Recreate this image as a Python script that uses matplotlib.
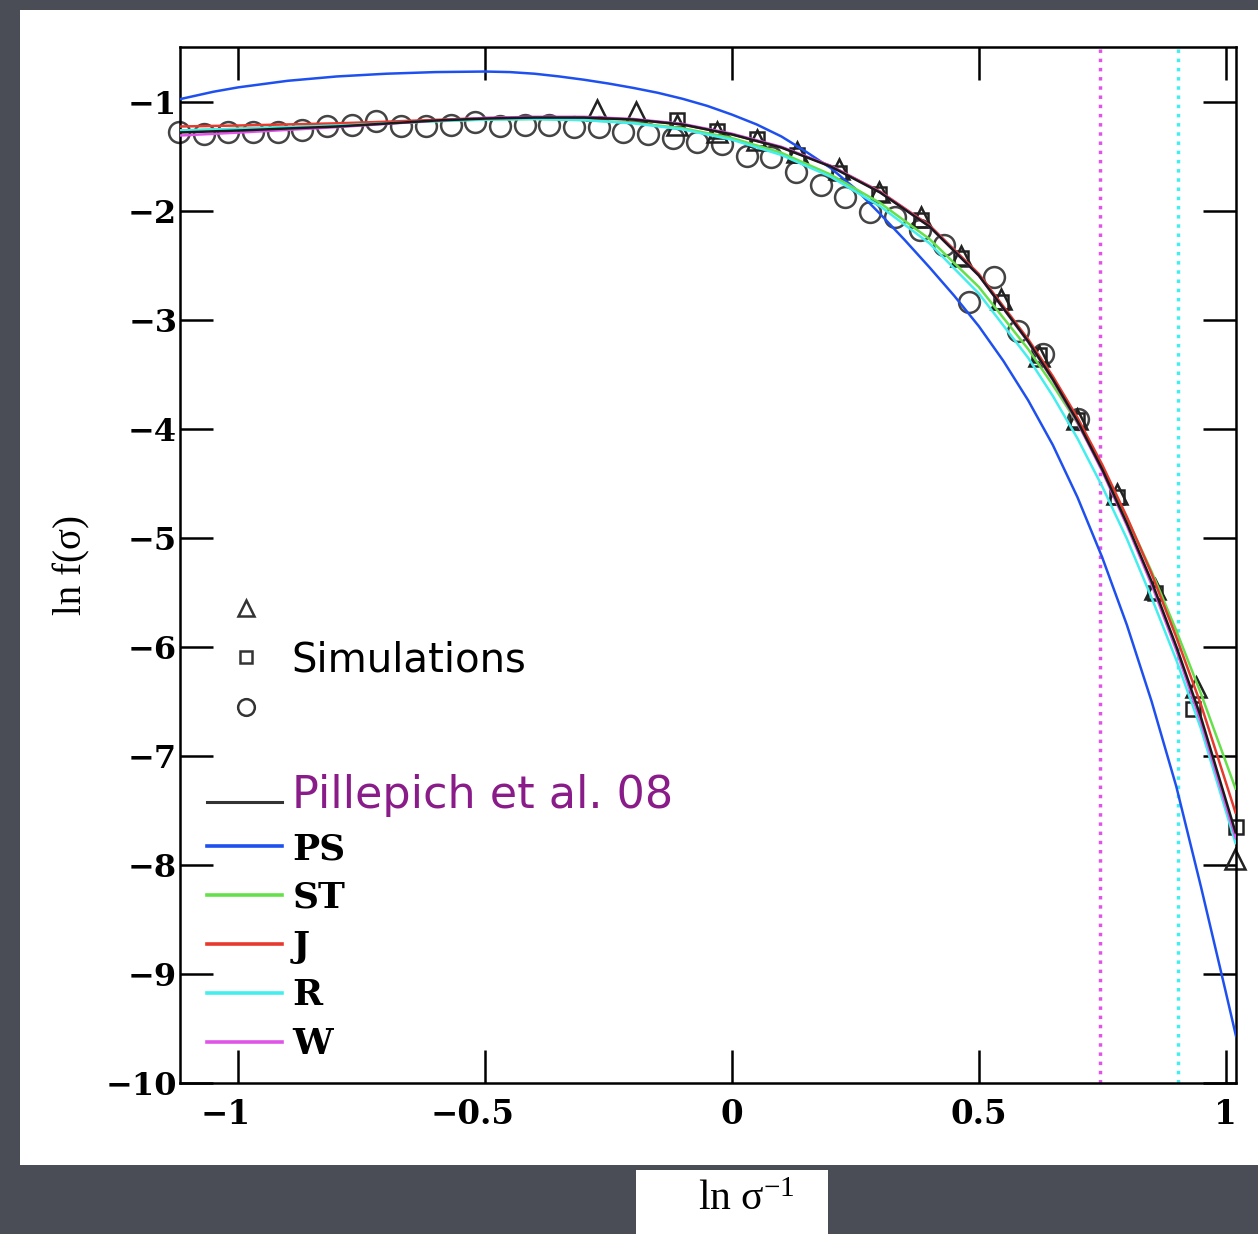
import numpy as np
import matplotlib
matplotlib.use("Agg")
import matplotlib.pyplot as plt
import matplotlib.transforms as mtransforms
from matplotlib.lines import Line2D
from matplotlib.patches import Rectangle
from matplotlib.legend_handler import HandlerLine2D

plt.rcParams["mathtext.fontset"] = "custom"
plt.rcParams["mathtext.rm"] = "Liberation Serif"
plt.rcParams["mathtext.it"] = "Liberation Serif:italic"

# model curves
curve_x = [-1.12, -1.0, -0.9, -0.8, -0.7, -0.6, -0.5, -0.4, -0.3, -0.2, -0.1, 0.0,
           0.1, 0.2, 0.3, 0.4, 0.5, 0.6, 0.65, 0.7, 0.75, 0.8, 0.85, 0.9, 0.95, 1.02]
st_y = [-1.266, -1.25, -1.235, -1.22, -1.20, -1.18, -1.165, -1.16, -1.17, -1.195, -1.245, -1.335,
        -1.47, -1.67, -1.93, -2.26, -2.70, -3.27, -3.60, -3.95, -4.36, -4.82, -5.31, -5.85, -6.43, -7.30]
j_y = [-1.229, -1.22, -1.21, -1.20, -1.185, -1.168, -1.152, -1.145, -1.147, -1.165, -1.211, -1.30,
       -1.42, -1.59, -1.825, -2.135, -2.58, -3.18, -3.52, -3.90, -4.33, -4.81, -5.33, -5.91, -6.53, -7.52]
r_y = [-1.266, -1.25, -1.235, -1.22, -1.20, -1.18, -1.165, -1.16, -1.17, -1.20, -1.255, -1.35,
       -1.49, -1.69, -1.96, -2.30, -2.76, -3.35, -3.70, -4.09, -4.53, -5.01, -5.55, -6.12, -6.75, -7.80]
w_y = [-1.312, -1.285, -1.26, -1.235, -1.205, -1.175, -1.15, -1.14, -1.14, -1.16, -1.205, -1.295,
       -1.415, -1.59, -1.83, -2.145, -2.595, -3.205, -3.555, -3.945, -4.39, -4.89, -5.43, -6.03, -6.69, -7.75]
pill_y = [-1.284, -1.266, -1.247, -1.229, -1.202, -1.174, -1.156, -1.147, -1.147, -1.165, -1.211, -1.302,
          -1.422, -1.596, -1.834, -2.146, -2.595, -3.200, -3.548, -3.933, -4.373, -4.868, -5.400, -5.995, -6.646, -7.70]

# Press-Schechter curve, read on a finer grid
ps_x = [-1.12, -1.05, -1.0, -0.9, -0.8, -0.7, -0.6, -0.5, -0.45, -0.4, -0.35, -0.3, -0.25, -0.2,
        -0.15, -0.1, -0.05, 0.0, 0.05, 0.1, 0.15, 0.2, 0.25, 0.3, 0.35, 0.4, 0.45, 0.5, 0.55,
        0.6, 0.65, 0.7, 0.75, 0.8, 0.85, 0.9, 0.95, 1.0, 1.021]
ps_y = [-0.98, -0.91, -0.87, -0.81, -0.77, -0.745, -0.73, -0.725, -0.73, -0.745, -0.77, -0.80, -0.835, -0.875,
        -0.92, -0.975, -1.04, -1.12, -1.21, -1.32, -1.46, -1.61, -1.80, -2.03, -2.27, -2.52, -2.78, -3.06, -3.38,
        -3.74, -4.15, -4.63, -5.18, -5.80, -6.50, -7.28, -8.20, -9.16, -9.57]

# simulation points
tri_x = [-0.273, -0.194, -0.111, -0.030, 0.051, 0.131, 0.216, 0.297, 0.382, 0.463, 0.544,
         0.621, 0.698, 0.779, 0.857, 0.940, 1.019]
tri_y = [-1.08, -1.10, -1.211, -1.284, -1.357, -1.467, -1.623, -1.834, -2.063, -2.421, -2.815,
         -3.337, -3.915, -4.602, -5.473, -6.371, -7.948]
sq_x = [-0.111, -0.030, 0.051, 0.131, 0.216, 0.297, 0.382, 0.463, 0.544, 0.621, 0.698,
        0.779, 0.857, 0.934, 1.021]
sq_y = [-1.165, -1.266, -1.348, -1.486, -1.651, -1.852, -2.082, -2.439, -2.842, -3.328, -3.924,
        -4.630, -5.510, -6.573, -7.655]
circ_x = [-1.12, -1.07, -1.02, -0.97, -0.92, -0.87, -0.82, -0.77, -0.72, -0.67, -0.62, -0.57,
          -0.52, -0.47, -0.42, -0.37, -0.32, -0.27, -0.22, -0.17, -0.12, -0.07, -0.02, 0.03,
          0.08, 0.13, 0.18, 0.23, 0.28, 0.33, 0.38, 0.43, 0.48, 0.53, 0.58, 0.63, 0.70]
circ_y = [-1.284, -1.302, -1.284, -1.275, -1.275, -1.257, -1.229, -1.211, -1.183, -1.229, -1.229, -1.211,
          -1.192, -1.229, -1.211, -1.211, -1.238, -1.238, -1.275, -1.302, -1.330, -1.367, -1.394, -1.504,
          -1.513, -1.642, -1.761, -1.871, -2.017, -2.063, -2.182, -2.320, -2.842, -2.613, -3.108, -3.319, -3.915]

w_limit = 0.745
r_limit = 0.903

models = [("PS", ps_x, ps_y, "#1e50f0"), ("ST", curve_x, st_y, "#66e04a"),
          ("J", curve_x, j_y, "#e8392e"), ("R", curve_x, r_y, "#44eeee"),
          ("W", curve_x, w_y, "#e055e8")]


class LowLine(HandlerLine2D):
    """legend line drawn a little below the middle of its label"""
    def create_artists(self, legend, orig_handle, xdescent, ydescent, width, height, fontsize, trans):
        return super().create_artists(legend, orig_handle, xdescent, ydescent + 8.6,
                                      width, height, fontsize, trans)


fig = plt.figure(figsize=(12.58, 12.34), dpi=100)
fig.patch.set_facecolor("#4b4d56")
fig.add_artist(Rectangle((20 / 1258, 69 / 1234), 1238 / 1258, 1155 / 1234,
                         transform=fig.transFigure, facecolor="white", edgecolor="none", zorder=-5))
fig.add_artist(Rectangle((636 / 1258, 0), 192 / 1258, 64 / 1234,
                         transform=fig.transFigure, facecolor="white", edgecolor="none", zorder=-5))

ax = fig.add_axes([180 / 1258, 151 / 1234, 1056 / 1258, 1036 / 1234])
ax.set_facecolor("white")

ax.plot(circ_x, circ_y, "o", mfc="none", mec="#444444", mew=1.8, ms=15, clip_on=False, zorder=2)
ax.plot(sq_x, sq_y, "s", mfc="none", mec="#222222", mew=1.8, ms=10.5, clip_on=False, zorder=2)
ax.plot(tri_x, tri_y, "^", mfc="none", mec="#222222", mew=1.8, ms=15, clip_on=False, zorder=2)

for name, xs, ys, col in models:
    ax.plot(xs, ys, color=col, lw=1.8, zorder=3)
ax.plot(curve_x, pill_y, color="#1a1a1a", lw=1.8, zorder=3)

ax.axvline(w_limit, color="#e055e8", ls=":", lw=2.5, zorder=1)
ax.axvline(r_limit, color="#44eeee", ls=":", lw=2.5, zorder=1)

ax.set_xlim(-1.118, 1.021)
ax.set_ylim(-10, -0.5)
ax.set_xticks([-1, -0.5, 0, 0.5, 1])
ax.set_xticklabels(["\u22121", "\u22120.5", "0", "0.5", "1"])
ax.set_yticks(range(-10, 0))
ax.set_yticklabels(["\u2212%d" % (-v) for v in range(-10, 0)])
ax.tick_params(direction="in", length=24, width=1.8, top=True, right=True)
ax.tick_params(axis="x", labelsize=23.5, pad=10.5)
ax.tick_params(axis="y", labelsize=23, pad=2)
# digits sit on the tick, the minus sign hangs to the left
shift = mtransforms.ScaledTranslation(-0.13, 0, fig.dpi_scale_trans)
for lab in ax.get_xticklabels():
    if lab.get_text().startswith("\u2212"):
        lab.set_transform(lab.get_transform() + shift)
for lab in ax.get_xticklabels() + ax.get_yticklabels():
    lab.set_family("DejaVu Serif")
    lab.set_weight("bold")
for sp in ax.spines.values():
    sp.set_linewidth(1.8)

ax.set_ylabel("ln f(\u03c3)", family="Liberation Serif", fontsize=28)
ax.yaxis.set_label_coords(-0.085, 0.5)
fig.text(746 / 1258, 34 / 1234, "ln \u03c3$^{-1}$", family="Liberation Serif", fontsize=30,
         ha="center", va="center")

# simulations legend
sim_handles = [Line2D([], [], ls="none", marker=m, mfc="none", mec="#333333", mew=1.8, ms=s)
               for m, s in [("^", 12), ("s", 9), ("o", 12)]]
leg1 = ax.legend(sim_handles, [" ", "Simulations", " "], loc="upper left",
                 bbox_to_anchor=(0.043, 0.475), frameon=False,
                 handlelength=1.0, handletextpad=0.65, labelspacing=0.235,
                 borderpad=0, borderaxespad=0, prop={"family": "DejaVu Sans", "size": 29})
ax.add_artist(leg1)

# model legend
mod_handles = [Line2D([], [], color="#333333", lw=2.2)]
mod_labels = ["Pillepich et al. 08"]
for name, xs, ys, col in models:
    mod_handles.append(Line2D([], [], color=col, lw=2.6))
    mod_labels.append(name)
leg2 = ax.legend(mod_handles, mod_labels, loc="lower left", bbox_to_anchor=(0.0256, 0.021),
                 frameon=False, handlelength=2.08, handletextpad=0.28, labelspacing=0.41,
                 borderpad=0, borderaxespad=0, handler_map={mod_handles[0]: LowLine()},
                 prop={"family": "DejaVu Serif", "weight": "bold", "size": 26})
texts = leg2.get_texts()
texts[0].set_family("DejaVu Sans")
texts[0].set_weight("normal")
texts[0].set_fontsize(32)
texts[0].set_color("#8a1c8a")

fig.savefig("out.png", dpi=100, facecolor=fig.get_facecolor())
